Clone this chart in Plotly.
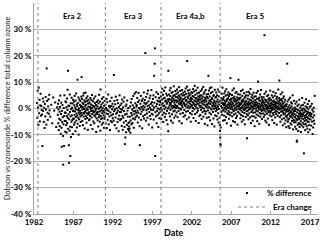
import plotly.graph_objects as go

# ---------------- data ----------------
years = list(range(1982, 2018))
# observation span inside first / last year
first_year_start = 1982.35
last_year_end = 2017.6

pct_diff_by_year = [
    [2.1, -3.5, 6.8, 0.4, -6.2, 7.9, -1.8, 3.3, -4.9, 1.2, 5.6, -2.7, 0.9, -0.6],
    [-2.3, -14.2, 3.8, -0.9, 2.6, -5.1, 0.3, -7.4, 1.7, -3.0, 4.4, -0.4, -6.1, 15.2, 2.9, -1.6, -4.3, 0.8, 3.5, -2.0, 5.2, -0.7],
    [-3.1, 1.4, -5.6, 4.2, -0.8, 2.3, -7.0, 0.5],
    [-2.4, 1.8, -5.6, -0.3, -8.2, 3.1, -3.9, -1.2, -6.7, 0.6, 4.9, -4.4, -9.6, -2.1, 2.2, -7.3, -14.5, -0.9, -5.2, 1.3, -3.3, -10.4, -21.3, -6.0, 0.2, -14.2, -2.8, 5.0, -4.7, -1.5, -8.8, 2.7],
    [-1.7, -4.8, 2.4, -6.3, 0.5, -9.1, -2.9, 3.8, -5.5, -0.6, 7.1, -3.6, 14.3, -7.7, 1.1, -2.2, -13.9, -20.6, -4.1, 0.9, -8.4, 5.3, -1.3, -6.9, -18.0, -3.0, 2.0, -10.8, -0.2, -5.0, 4.1, -2.6, -7.1, 0.3, -4.4, 1.9, -9.7, -1.0, 3.3, -3.8],
    [-0.8, -3.9, 2.6, -6.1, 1.2, -2.4, 4.8, -5.3, -1.1, 0.4, -8.6, 3.0, -3.2, -0.3, 5.7, -4.6, -1.9, 1.6, -7.2, -2.7, 0.9, 10.9, -5.8, 2.1, -0.6, -3.5, 4.2, -9.9, -1.5, 0.0, -4.1, 3.4, -2.2, -6.6, 1.4, -0.9, 2.8, -3.0, -5.1, 0.6, -1.7, 4.5],
    [1.0, 11.9, -2.5, 3.6, -0.4, -4.7, 2.2, 0.5, -6.3, 4.9, -1.6, 1.7, -3.1, 5.8, -0.2, -2.0, 3.1, -7.6, 0.8, -1.2, 2.5, -4.0, 6.0, -0.7, 1.4, -2.9, 3.9, -5.4, 0.1, -1.8, 2.9, -3.6, 4.6, -0.5, -8.1, 1.9, -2.3, 0.7, 3.3, -1.4, -4.4, 2.0],
    [-1.9, 2.3, -4.1, 0.6, -2.8, 4.0, -0.3, -6.2, 1.5, -1.0, 3.2, -3.4, 0.2, 5.1, -2.1, -7.8, 1.1, -0.8, 2.7, -4.9, -1.4, 0.9, 3.8, -2.6, -5.6, 0.4, -1.2, 2.1, -3.0, 4.6, -0.6, -2.2, 1.3, -8.9, 0.0, -3.7, 2.5, -1.5],
    [-2.0, 0.8, -4.5, 3.1, -1.3, -6.8, 1.9, -0.2, -3.3, 5.2, -2.4, 0.3, -5.0, 2.6, -1.1, -8.4, 7.2, -2.9, 0.6, -4.0, 1.5, -0.7, -6.1, 3.7, -1.8, -3.6, 0.1, 2.2, -5.4, -0.9, 4.3, -2.6, -7.3, 1.0, -1.5, -3.9, 2.9, -0.4],
    [-3.2, 1.4, -5.7, 0.2, -1.9, 3.6, -7.4, -0.6, 2.4, -4.3, -2.1, 5.3, -0.9, -6.0, 1.0, -3.0, 0.5, -8.2, 2.8, -1.5, -4.8, 0.9, -2.6, 4.1, -5.2, -0.3, 1.8, -3.7],
    [-2.2, 0.7, -4.6, 12.7, -1.0, 2.9, -6.3, -0.4, 1.6, -3.4, 4.5, -2.0, -7.5, 0.1, -1.6, 3.2, -5.1, -0.8, 2.0, -3.9, -8.6, 0.6, -2.7, 5.0, -1.3, -4.4, 1.2, -0.2],
    [-1.4, -4.0, 1.9, -6.6, -0.5, 3.4, -2.8, -8.1, 0.4, -3.5, 2.6, -5.3, -1.0, 4.2, -7.0, -13.5, -2.3, -11.0, 0.9, -4.7, -9.0, 1.5, -2.0, -6.2, 3.0, -0.8, -3.1, -7.8, 0.2, -5.5],
    [-6.8, -8.4, -5.2, -7.6, -3.1, 0.8, -9.2, -4.5, 2.3, -1.7, -6.0, 3.6, -2.6, -0.4, -5.5, 1.2, -3.8, 4.7, -1.1, -7.3, 0.3, -2.2, 5.6, -4.1, -0.9, 2.0, -3.3, 6.2, -1.6, 0.7],
    [1.3, -2.7, 4.0, -0.8, -5.3, 2.5, -1.6, 5.9, -3.4, 0.2, 3.1, -6.7, -13.9, -0.3, 1.8, -2.1, 4.8, -4.3, 0.6, -1.2, 2.9, -7.5, 0.0, 3.7, -2.9, 1.0, -0.6, 6.1, -3.8, 2.2],
    [0.5, 3.2, -2.4, 21.0, 1.6, -4.6, 4.4, -0.7, 2.1, -1.9, 5.6, -3.5, 0.9, 6.8, -0.2, 2.7, -6.1, 1.2, -1.3, 3.9, -2.8, 0.3, 4.9, -4.0, 1.8, -0.5, 7.0, -2.0, 2.4, -7.2],
    [1.1, -2.3, 3.6, -0.6, 5.0, -4.2, 0.4, 12.4, 2.2, 17.0, 22.8, -18.0, -1.4, 4.3, -3.0, 0.8, 6.2, -5.6, 1.7, -0.9, 3.0, -2.5, 0.0, 5.5, -7.0, 2.6, -1.8, 4.0, -3.7, 1.4, -0.3, 2.9],
    [2.4, -1.2, 4.6, 0.3, -3.9, 6.1, 1.5, -0.7, 3.4, 7.5, -2.4, 2.0, 5.2, -5.1, 0.9, 3.8, -1.6, 6.7, 1.1, -0.2, 4.1, -3.2, 2.7, 8.0, 0.5, -2.0, 3.0, 5.6, -4.4, 1.8, -0.9, 4.9, 2.3, -6.0, 0.0, 3.5],
    [-8.6, 14.3, 2.8, 0.4, 5.3, -1.8, 3.6, 1.2, 6.9, -3.0, 2.1, 4.7, -0.5, 7.8, 1.6, -4.6, 3.3, 0.8, 5.9, 2.5, -2.2, 4.1, 0.1, 6.3, -5.4, 2.9, 1.0, 4.8, -1.1, 3.7, 8.4, 0.6, -3.5, 2.2, 5.1, -0.8, 3.0, 1.4, 6.6, -2.7, 4.4, 0.2],
    [3.1, 0.7, 5.6, -1.5, 2.4, 7.2, 1.0, 4.3, -3.3, 2.9, 6.1, 0.3, 3.8, -0.9, 5.0, 1.8, 8.1, -4.8, 2.6, 4.6, 0.0, 3.4, 6.7, -2.0, 1.5, 4.0, 2.1, -0.4, 5.4, 3.0, -5.6, 1.2, 7.0, 2.7, 0.5, 4.9, -1.7, 3.5, 6.0, 1.9, -3.1, 2.2],
    [2.0, 5.1, -0.6, 3.7, 1.3, 6.4, -2.6, 4.2, 0.8, 7.6, 2.9, -1.2, 5.5, 1.6, 3.2, -4.1, 8.3, 18.0, 0.4, 4.5, 2.3, 6.8, -0.9, 3.9, 1.0, 5.8, -3.4, 2.6, 4.9, 0.1, 7.1, 1.9, -1.7, 3.5, 5.3, 0.6, -5.0, 2.8, 4.1, 1.4, 6.2, -2.2],
    [3.6, 1.1, 5.9, -1.0, 2.5, 4.7, 0.2, 7.4, 2.0, -3.6, 4.4, 1.6, 6.5, -0.3, 3.1, 8.6, 0.9, -2.1, 5.2, 2.7, 3.9, -4.7, 1.4, 6.9, 0.4, 4.0, 2.3, -1.5, 5.7, 3.3, 0.0, 7.9, 1.8, -0.8, 4.6, 2.9, -5.5, 3.5, 6.0, 1.2, -2.8, 4.3],
    [2.2, 4.9, 0.6, -2.4, 3.4, 6.6, 1.0, -0.5, 5.0, 2.6, -4.0, 3.8, 7.3, 0.3, 1.9, -1.4, 4.5, 2.9, 8.2, -3.1, 1.5, 5.6, 0.0, 3.1, -0.9, 6.2, 2.4, -5.8, 4.1, 1.2, -2.0, 3.6, 7.0, 0.8, -1.1, 2.8, 5.3, -3.5, 1.6, 4.4, 0.4, -6.4],
    [1.4, 3.9, -0.7, 5.5, 12.4, 2.1, -3.3, 6.8, 0.5, 2.9, -1.6, 4.6, 7.7, -4.5, 1.7, 3.3, 0.0, 5.9, -2.2, 2.5, 8.0, -0.4, 4.0, 1.1, -5.9, 3.6, 6.3, 0.7, -1.3, 2.0, 4.8, -3.8, 1.3, 5.1, -0.1, 3.0, -6.8, 2.4, 7.1, 0.9, -2.6, 4.2],
    [1.8, -1.0, 4.3, 0.2, 6.1, -2.9, 2.6, -0.5, 5.0, 1.1, -4.2, 3.4, 7.2, 0.6, -1.8, 2.3, -5.3, 4.6, -0.2, 1.5, 6.4, -3.5, 2.8, -6.3, -8.5, -11.0, -13.5, -14.0, -7.2, 0.9, 4.0, -1.3, 2.1, 5.6, -2.4, 0.3, 3.1, 7.9, -0.8, 1.6, -4.6, 3.6],
    [2.0, -0.6, 4.4, 1.2, -2.7, 5.7, 0.3, 3.0, -4.4, 1.7, 6.5, -1.2, 2.5, 0.0, 4.9, -3.3, 1.0, 7.3, -0.4, 2.9, -5.6, 3.6, 0.7, -1.8, 5.2, 1.5, -2.1, 3.9, 0.2, 6.1, -0.9, 2.2, -3.9, 4.7, 1.3, -1.5, 3.2, 0.5, 5.5, -2.5, 1.9, 11.5, -0.2, 3.5, -6.5, 2.7],
    [1.4, 3.8, -1.6, 0.6, 5.1, -3.0, 2.3, 6.9, -0.3, 1.8, -4.8, 4.0, 0.9, -1.0, 3.1, 7.6, -2.3, 1.1, 4.5, -0.7, 2.6, -5.2, 0.1, 3.6, 5.9, -1.9, 1.6, -3.6, 2.9, 0.4, 6.3, -0.5, 2.0, -2.8, 4.2, 1.0, -6.1, 3.3, 0.8, 5.4, -1.3, 2.4, 10.9, -0.1, 3.9, 1.5],
    [0.8, 3.5, -1.9, 2.1, 5.3, -0.4, 1.4, -3.7, 4.1, 0.2, 6.6, -2.5, 1.8, -0.8, 3.0, -5.0, 2.4, 0.5, 4.8, -1.4, 7.1, 1.1, -2.9, 3.3, 0.0, -4.3, 2.7, 5.8, -0.6, 1.6, -1.7, 3.9, 0.7, -6.0, 2.2, 4.4, -0.2, 1.3, -3.2, 5.0, 0.4, 2.8, -1.1, 6.2, -2.2, 1.9],
    [-11.3, 1.5, -0.9, 3.7, 0.3, -2.6, 4.9, 1.0, -4.1, 2.5, 6.3, -0.5, 1.7, -1.8, 3.4, 0.1, 5.6, -3.4, 2.0, -0.2, 7.4, 1.2, -5.5, 3.1, 0.6, -1.3, 4.3, 2.3, -2.9, 0.8, 5.2, -0.7, 1.9, -4.6, 3.8, 0.4, -1.6, 2.7, 6.0, -0.1, 1.4, -3.0, 4.5, 0.9, -6.7, 2.2],
    [0.9, -1.5, 3.2, 1.6, -3.5, 4.6, 0.0, 2.4, -0.8, 5.9, -2.3, 1.3, 3.7, -4.8, 0.5, 2.0, -1.1, 6.6, 10.2, 1.0, -2.7, 3.5, 0.3, -0.4, 4.1, -5.8, 1.8, 2.9, -1.7, 0.6, 5.3, -3.1, 1.2, 3.0, -0.3, 7.0, -2.0, 0.8, 4.4, -1.0, 2.1, -4.0, 1.5, 3.6, -0.6, 2.6],
    [0.4, 2.8, -1.9, 1.1, 4.3, -3.2, 0.0, 2.2, -0.7, 27.8, 5.6, -2.4, 1.5, 3.4, -4.6, 0.8, -1.2, 2.6, 6.4, -0.1, 1.3, -5.3, 3.1, 0.6, -2.0, 4.7, 1.0, -0.5, 2.3, -3.8, 0.2, 5.1, -1.4, 1.8, 3.6, -6.2, 0.7, -0.9, 2.9, 4.0, -2.6, 1.2, 0.0, 6.8, -1.6, 2.0],
    [1.0, -1.1, 3.3, 0.2, -3.0, 2.1, 5.0, -0.6, 1.5, -4.4, 2.7, 0.5, 4.2, -1.8, 0.0, 6.3, -2.5, 1.4, 3.0, -0.3, -5.5, 2.3, 0.8, 4.8, -1.4, 1.7, -3.4, 0.4, 2.5, 5.8, -0.8, 1.1, -2.1, 3.7, 0.1, -6.1, 2.0, 4.4, -1.2, 0.6, 3.1, -2.8, 1.9, -0.2, 7.2, 0.9],
    [0.3, 2.5, -1.7, 4.0, 10.6, -0.4, 1.6, -3.3, 3.2, 0.0, -5.0, 2.0, 5.4, -1.2, 0.8, -2.6, 3.6, -0.1, 1.3, -4.1, 2.8, 6.1, -0.9, 0.5, -6.4, 1.9, -1.5, 3.9, 0.2, -2.2, 4.6, -3.7, 1.0, -0.6, 2.4, -5.7, 0.7, -1.9, 3.3, -0.3, 1.4, -4.5, -2.9, 0.9, -7.1, -1.0],
    [-1.2, 1.6, -3.4, -0.3, 17.0, -2.5, 2.7, -5.0, -1.0, 0.5, -4.2, -6.7, 3.4, -2.0, -0.6, -3.8, 1.2, -7.4, -1.6, 4.1, -2.9, 0.2, -5.6, -0.9, -3.1, 2.3, -1.4, -6.1, 0.8, -2.3, -4.7, 1.9, -0.4, -3.6, 5.0, -1.8, -7.9, -2.7, 0.0, -4.4, -1.1, 2.9, -5.3, -0.7],
    [-2.1, -4.6, 0.4, -3.3, -6.9, -1.0, 1.8, -5.2, -2.6, -0.2, -7.8, -3.9, 2.6, -12.6, -12.2, -1.5, -4.4, 0.9, -6.2, -2.9, -0.6, -8.5, -3.6, 1.5, -5.5, -1.9, -4.0, 3.3, -2.3, -7.0, -0.9, -3.1, -5.9, 0.3, -1.7, -4.8, -8.9, -2.5, 1.1, -3.8, -6.4, -0.4, -2.0, 4.0],
    [-3.0, -0.8, -5.4, 1.3, -2.2, -7.1, -4.0, 0.0, -1.6, -17.0, -6.0, -2.8, 2.2, -4.7, -0.5, -3.5, -8.2, -1.2, 0.8, -5.8, -2.5, 3.5, -4.3, -1.0, -6.6, -3.2, 0.4, -2.0, -7.6, -4.9, 1.7, -1.4, -3.7, -9.0, -0.3, -5.1, -2.7, 2.8, -6.3, -1.8, -3.9, 0.6, -8.0, -2.4],
    [-1.6, -4.2, 0.9, -3.0, -6.5, -2.1, 1.8, -5.0, -0.5, -9.7, -3.4, -7.2, -1.2, 0.3, -4.6, -2.6, -5.8, 4.8],
]

era_change_dates = [1982.5, 1991.05, 1998.1, 2005.6]
era_names = ["Era 2", "Era 3", "Era 4a,b", "Era 5"]
era_label_x = [1986.8, 1994.6, 2001.85, 2010.0]
era_label_y = 35

x_tick_vals = [1982, 1987, 1992, 1997, 2002, 2007, 2012, 2017]
x_tick_text = ["1982", "1987", "1992", "1997", "2002", "2007", "2012", "2017"]
y_tick_vals = [-40, -30, -20, -10, 0, 10, 20, 30, 40]
y_tick_text = ["-40 %", "-30 %", "-20 %", "-10 %", "0 %", "10 %", "20 %", "30 %", "40 %"]

# ---------------- build points ----------------
dates, values = [], []
for yr, vals in zip(years, pct_diff_by_year):
    start = first_year_start if yr == years[0] else yr
    end = last_year_end if yr == years[-1] else yr + 1
    n = len(vals)
    for i, v in enumerate(vals):
        dates.append(start + (i + 0.5) * (end - start) / n)
        values.append(v)

era_x, era_y = [], []
for d in era_change_dates:
    era_x += [d, d, None]
    era_y += [-40, 40, None]

FONT = "Lato"
fig = go.Figure()
fig.add_trace(go.Scatter(
    x=dates, y=values, mode="markers", name="% difference", legend="legend",
    marker=dict(symbol="square", size=2, color="black", line=dict(width=0)),
))
fig.add_trace(go.Scatter(
    x=era_x, y=era_y, mode="lines", name="Era change", legend="legend2",
    line=dict(color="#808080", width=1, dash="3px,3px"),
))

for name, xv in zip(era_names, era_label_x):
    fig.add_annotation(x=xv, y=era_label_y, text=name, showarrow=False,
                       font=dict(family=FONT, size=8, color="black", weight="bold"))

fig.add_annotation(xref="paper", yref="paper", x=-0.092, y=0.5,
                   xanchor="center", yanchor="middle",
                   text="Dobson vs ozonesonde % difference total column ozone",
                   textangle=-90, showarrow=False,
                   font=dict(family=FONT, size=7.5, color="#222"))
fig.add_annotation(xref="paper", yref="paper", x=0.493, y=-0.088,
                   xanchor="center", yanchor="middle",
                   text="Date", showarrow=False,
                   font=dict(family=FONT, size=9, color="black", weight="bold"))

leg_font = dict(family=FONT, size=8, color="black", weight="bold")
fig.update_layout(
    width=320, height=240,
    margin=dict(l=34, r=2, t=3, b=26, autoexpand=False),
    paper_bgcolor="white", plot_bgcolor="white",
    showlegend=True,
    legend=dict(x=1.0, xanchor="right", y=0.10, yanchor="middle",
                bgcolor="rgba(0,0,0,0)", itemwidth=30, font=leg_font),
    legend2=dict(x=1.0, xanchor="right", y=0.033, yanchor="middle",
                 bgcolor="rgba(0,0,0,0)", itemwidth=30, font=leg_font),
    xaxis=dict(range=[1982, 2018], tickmode="array", tickvals=x_tick_vals,
               ticktext=x_tick_text, showgrid=False, zeroline=False,
               automargin=False,
               showline=True, linecolor="#a6a6a6", linewidth=1,
               ticks="inside", ticklen=3, tickcolor="#a6a6a6",
               tickfont=dict(family=FONT, size=8, color="black", weight="bold")),
    yaxis=dict(range=[-40, 40], tickmode="array", tickvals=y_tick_vals,
               ticktext=y_tick_text, showgrid=True, gridcolor="#b0b0b0",
               automargin=False,
               gridwidth=1, zeroline=False, showline=True,
               linecolor="#a6a6a6", linewidth=1, ticks="",
               tickfont=dict(family=FONT, size=8, color="black", weight="bold")),
)

fig.write_html("out.html", config={"displayModeBar": False},
               post_script="document.body.style.margin='0';")
